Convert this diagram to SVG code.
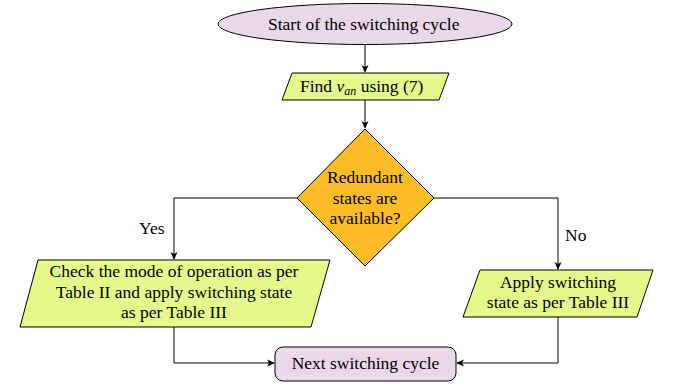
<svg xmlns="http://www.w3.org/2000/svg" width="678" height="389" viewBox="0 0 678 389">
<rect width="678" height="389" fill="#fff"/>
<g id="connectors" fill="none" stroke="#000" stroke-width="1">
<path d="M365,45 V71"/>
<path d="M365,100 V127"/>
<path d="M297,198 H174 V259"/>
<path d="M434,198 H558 V269"/>
<path d="M174,326 V363 H274"/>
<path d="M558,317 V363 H457"/>
<g fill="#000" stroke="none">
<path d="M361.5,65 L365,73 L368.5,65 L365,67 Z"/>
<path d="M361.5,121 L365,129 L368.5,121 L365,123 Z"/>
<path d="M170.5,252 L174,260 L177.5,252 L174,254 Z"/>
<path d="M554.5,262 L558,270 L561.5,262 L558,264 Z"/>
<path d="M267,359.5 L275,363 L267,366.5 L269,363 Z"/>
<path d="M464,359.5 L456,363 L464,366.5 L462,363 Z"/>
</g>
</g>
<g id="labels">
<text font-family="Liberation Serif" font-size="17.5" x="139" y="234">Yes</text>
<text font-family="Liberation Serif" font-size="17.5" x="565" y="241">No</text>
</g>
<g id="start">
<ellipse stroke="#000" cx="365" cy="24" rx="147" ry="20.5" fill="#e9d7ea"/>
<text font-family="Liberation Serif" font-size="17.5" x="268" y="29.5">Start of the switching cycle</text>
</g>
<g id="find">
<polygon stroke="#000" points="292,73 449,73 439,100 282,100" fill="#e4f98a"/>
<text font-family="Liberation Serif" font-size="17.5" x="300" y="92">Find <tspan font-style="italic">v</tspan><tspan font-style="italic" font-size="12" dy="3">an</tspan><tspan dy="-3"> using (7)</tspan></text>
</g>
<g id="decision">
<polygon stroke="#000" points="365,129 434,198 365,266 297,198" fill="#fbbc25"/>
<text font-family="Tinos, 'Liberation Serif', serif" font-size="17.5" text-anchor="middle" x="365" y="183">Redundant</text>
<text font-family="Tinos, 'Liberation Serif', serif" font-size="17.5" text-anchor="middle" x="365" y="203.5">states are</text>
<text font-family="Tinos, 'Liberation Serif', serif" font-size="17.5" text-anchor="middle" x="365" y="224">available?</text>
</g>
<g id="yesbox">
<polygon stroke="#000" points="38,260 330,260 311,327 20,327" fill="#e4f98a"/>
<text font-family="Liberation Serif" font-size="17.5" text-anchor="middle" x="174" y="277">Check the mode of operation as per</text>
<text font-family="Liberation Serif" font-size="17.5" text-anchor="middle" x="174" y="297.5">Table II and apply switching state</text>
<text font-family="Liberation Serif" font-size="17.5" text-anchor="middle" x="174" y="318">as per Table III</text>
</g>
<g id="nobox">
<polygon stroke="#000" points="480,270 653,270 637,317 463,317" fill="#e4f98a"/>
<text font-family="Times New Roman" font-size="17.5" text-anchor="middle" x="558" y="288">Apply switching</text>
<text font-family="Times New Roman" font-size="17.5" text-anchor="middle" x="558" y="308">state as per Table III</text>
</g>
<g id="next">
<rect stroke="#000" x="275" y="347" width="181" height="34" rx="8" fill="#e9d7ea"/>
<text font-family="serif" font-size="17.5" text-anchor="middle" x="365.5" y="369">Next switching cycle</text>
</g>
</svg>
